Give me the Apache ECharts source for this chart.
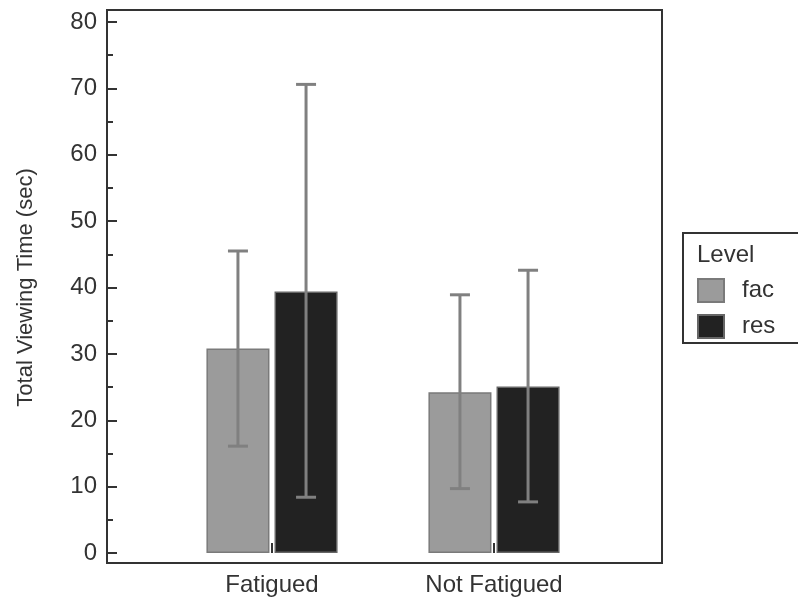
<!DOCTYPE html>
<html>
<head>
<meta charset="utf-8">
<script src="https://cdn.jsdelivr.net/npm/echarts@6/dist/echarts.min.js"></script>
<style>html,body{margin:0;padding:0;background:#fff;}#c{width:798px;height:608px;}</style>
</head>
<body>
<div id="c"></div>
<script>
const categories = ['Fatigued', 'Not Fatigued'];
const seriesNames = ['fac', 'res'];
const facMean = [30.8, 24.2];
const facLow = [16.1, 9.7];
const facHigh = [45.5, 38.9];
const resMean = [39.4, 25.1];
const resLow = [8.4, 7.7];
const resHigh = [70.6, 42.6];
const yTicks = [0, 10, 20, 30, 40, 50, 60, 70, 80];

const FONT = 'Liberation Sans, Arial, Helvetica, sans-serif';
const BAR_W = 0.284, BAR_GAP = 0.08;

function errorSeries(name, low, high, sign) {
  return {
    type: 'custom', name: name + '_err', xAxisIndex: 1, yAxisIndex: 1, z: 10,
    silent: true,
    data: categories.map((c, i) => [i, low[i], high[i]]),
    renderItem: function (params, api) {
      const band = api.size([1, 0])[0];
      const w = band * BAR_W;
      const off = sign * (w + w * BAR_GAP) / 2;
      const lo = api.coord([api.value(0), api.value(1)]);
      const hi = api.coord([api.value(0), api.value(2)]);
      const x = lo[0] + off;
      const cap = 10;
      const st = { stroke: '#808080', lineWidth: 3 };
      return {
        type: 'group',
        children: [
          { type: 'line', shape: { x1: x, y1: lo[1], x2: x, y2: hi[1] }, style: st },
          { type: 'line', shape: { x1: x - cap, y1: lo[1], x2: x + cap, y2: lo[1] }, style: st },
          { type: 'line', shape: { x1: x - cap, y1: hi[1], x2: x + cap, y2: hi[1] }, style: st }
        ]
      };
    }
  };
}

const chart = echarts.init(document.getElementById('c'), null, { renderer: 'canvas' });
chart.setOption({
  animation: false,
  backgroundColor: '#fff',
  textStyle: { fontFamily: FONT },
  title: {
    text: 'Level', left: 697, top: 243, padding: 0,
    textStyle: { fontSize: 24, fontWeight: 'normal', color: '#333', fontFamily: FONT }
  },
  graphic: [
    { type: 'rect', shape: { x: 683, y: 233, width: 200, height: 110 },
      style: { fill: 'none', stroke: '#333', lineWidth: 2 }, silent: true, z: 0 }
  ],
  legend: {
    data: seriesNames.map(n => ({ name: n, icon: 'rect' })),
    orient: 'vertical',
    left: 683, top: 233,
    padding: [45, 0, 8, 14],
    itemWidth: 26, itemHeight: 23, itemGap: 11,
    textStyle: { fontSize: 24, color: '#333', fontFamily: FONT, padding: [0, 0, 0, 13] }
  },
  grid: [
    { left: 107, right: 136, top: 10, bottom: 45, show: true, borderColor: '#333', borderWidth: 2, backgroundColor: 'transparent', outerBoundsMode: 'none' },
    { left: 161, right: 193, top: 22, bottom: 55, outerBoundsMode: 'none' }
  ],
  xAxis: [
    { gridIndex: 0, type: 'value', show: false },
    {
      gridIndex: 1, type: 'category', data: categories, offset: 10,
      axisLine: { show: false },
      axisTick: { show: true, inside: true, length: 10, alignWithLabel: true, lineStyle: { color: '#333', width: 2 } },
      axisLabel: { fontSize: 24, color: '#333', margin: 10, fontFamily: FONT },
      splitLine: { show: false }
    }
  ],
  yAxis: [
    { gridIndex: 0, type: 'value', show: false },
    {
      gridIndex: 1, type: 'value', min: yTicks[0], max: yTicks[yTicks.length - 1], interval: 10,
      offset: 54,
      name: 'Total Viewing Time (sec)', nameLocation: 'middle', nameGap: 70, nameRotate: 90,
      nameTextStyle: { fontSize: 22, color: '#333', fontFamily: FONT },
      axisLine: { show: false },
      axisTick: { show: true, inside: true, length: 10, lineStyle: { color: '#333', width: 2 } },
      minorTick: { show: true, splitNumber: 2, length: 6, lineStyle: { color: '#333', width: 2 } },
      axisLabel: { fontSize: 24, color: '#333', margin: 10, fontFamily: FONT },
      splitLine: { show: false }
    }
  ],
  series: [
    {
      name: 'fac', type: 'bar', xAxisIndex: 1, yAxisIndex: 1, data: facMean,
      barWidth: (BAR_W * 100) + '%', barGap: (BAR_GAP * 100) + '%',
      itemStyle: { color: '#9b9b9b', borderColor: '#7a7a7a', borderWidth: 1.5 }
    },
    {
      name: 'res', type: 'bar', xAxisIndex: 1, yAxisIndex: 1, data: resMean,
      barWidth: (BAR_W * 100) + '%', barGap: (BAR_GAP * 100) + '%',
      itemStyle: { color: '#222222', borderColor: '#666666', borderWidth: 1.5 }
    },
    errorSeries('fac', facLow, facHigh, -1),
    errorSeries('res', resLow, resHigh, 1)
  ]
});
</script>
</body>
</html>
